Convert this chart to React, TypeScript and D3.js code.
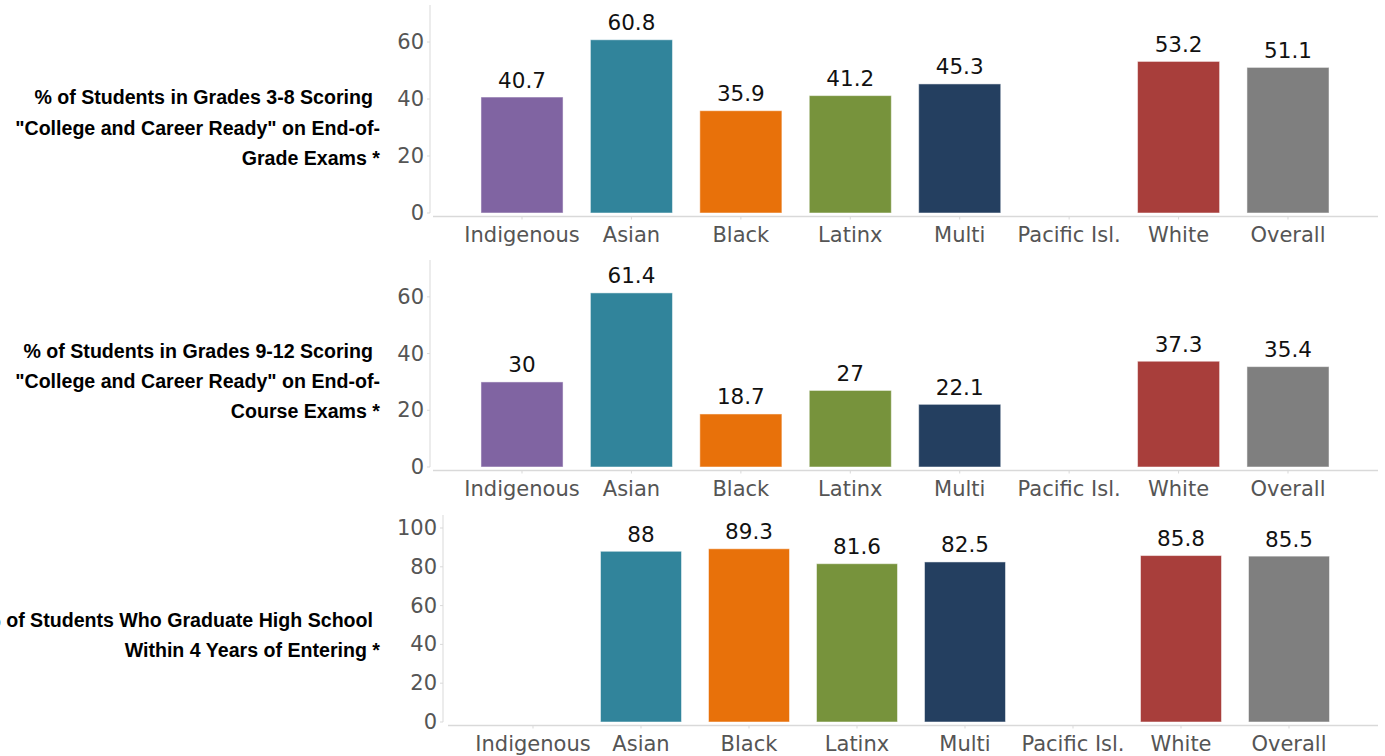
import React from "react";
import * as d3 from "d3";

const categories = ["Indigenous", "Asian", "Black", "Latinx", "Multi", "Pacific Isl.", "White", "Overall"];
const colors = ["#8064a2", "#31849b", "#e8710a", "#77933c", "#243f60", "#4bacc6", "#a83e3b", "#7f7f7f"];
const grades38 = [40.7, 60.8, 35.9, 41.2, 45.3, null, 53.2, 51.1];
const grades912 = [30, 61.4, 18.7, 27, 22.1, null, 37.3, 35.4];
const graduation = [null, 88, 89.3, 81.6, 82.5, null, 85.8, 85.5];
const ticks1 = [0, 20, 40, 60];
const ticks3 = [0, 20, 40, 60, 80, 100];
const title1 = ["% of Students in Grades 3-8 Scoring", "\"College and Career Ready\" on End-of-", "Grade Exams *"];
const title2 = ["% of Students in Grades 9-12 Scoring", "\"College and Career Ready\" on End-of-", "Course Exams *"];
const title3 = ["% of Students Who Graduate High School", "Within 4 Years of Entering *"];

type PanelProps = {
  values: (number | null)[];
  ticks: number[];
  yMax: number;
  top: number;
  bottom: number;
  axisX: number;
  xLeft: number;
  xRight: number;
  lineStart: number;
  title: string[];
  titleY: number[];
};

function Panel(p: PanelProps) {
  const y = d3.scaleLinear().domain([0, p.yMax]).range([p.bottom, p.top]);
  const x = d3.scaleBand<string>().domain(categories).range([p.xLeft, p.xRight]).paddingInner(0.25).paddingOuter(0.125);
  const axisY = p.bottom + 3.5;
  return (
    <g>
      {p.title.map((t, i) => (
        <text key={i} x={i === 0 ? 373 : 380} y={p.titleY[i]} textAnchor="end" dominantBaseline="central"
          fontFamily="'Liberation Sans', Arial, sans-serif" fontWeight="bold" fontSize={19.6} fill="#000">{t}</text>
      ))}
      <line x1={p.axisX} x2={p.axisX} y1={p.top} y2={p.bottom} stroke="#d9d9d9" strokeWidth={1} />
      {p.ticks.map((t) => (
        <g key={t}>
          <line x1={p.axisX - 3} x2={p.axisX} y1={y(t)} y2={y(t)} stroke="#d9d9d9" />
          <text x={p.axisX - 6} y={y(t)} textAnchor="end" dominantBaseline="central"
            fontFamily="'DejaVu Sans', sans-serif" fontSize={21} fill="#555">{t}</text>
        </g>
      ))}
      <line x1={p.lineStart} x2={1378} y1={axisY} y2={axisY} stroke="#d9d9d9" strokeWidth={1.5} />
      {categories.map((c, i) => {
        const cx = (x(c) as number) + x.bandwidth() / 2;
        const v = p.values[i];
        return (
          <g key={c}>
            <line x1={cx} x2={cx} y1={axisY} y2={axisY + 3} stroke="#d9d9d9" />
            <text x={cx} y={axisY + 18.5} textAnchor="middle" dominantBaseline="central"
              fontFamily="'DejaVu Sans', sans-serif" fontSize={21} fill="#555">{c}</text>
            {v !== null && (
              <g>
                <rect x={x(c)} y={y(v)} width={x.bandwidth()} height={p.bottom - y(v)} fill={colors[i]}
                  stroke="#ffffff" strokeOpacity={0.5} strokeWidth={1} />
                <text x={cx} y={y(v) - 17} textAnchor="middle" dominantBaseline="central"
                  fontFamily="'DejaVu Sans', sans-serif" fontSize={21.5} fill="#111">{v}</text>
              </g>
            )}
          </g>
        );
      })}
    </g>
  );
}

export default function App() {
  return (
    <svg width={1385} height={756} style={{ position: "absolute", left: 0, top: 0, background: "#fff" }}>
      <Panel values={grades38} ticks={ticks1} yMax={73} top={5} bottom={213} axisX={430}
        xLeft={467.3} xRight={1342.7} lineStart={433} title={title1} titleY={[97, 128, 158]} />
      <Panel values={grades912} ticks={ticks1} yMax={73} top={260} bottom={467} axisX={430}
        xLeft={467.3} xRight={1342.7} lineStart={433} title={title2} titleY={[351, 381, 411]} />
      <Panel values={graduation} ticks={ticks3} yMax={106.7} top={515} bottom={722} axisX={443}
        xLeft={479} xRight={1343} lineStart={448} title={title3} titleY={[620, 650]} />
    </svg>
  );
}
